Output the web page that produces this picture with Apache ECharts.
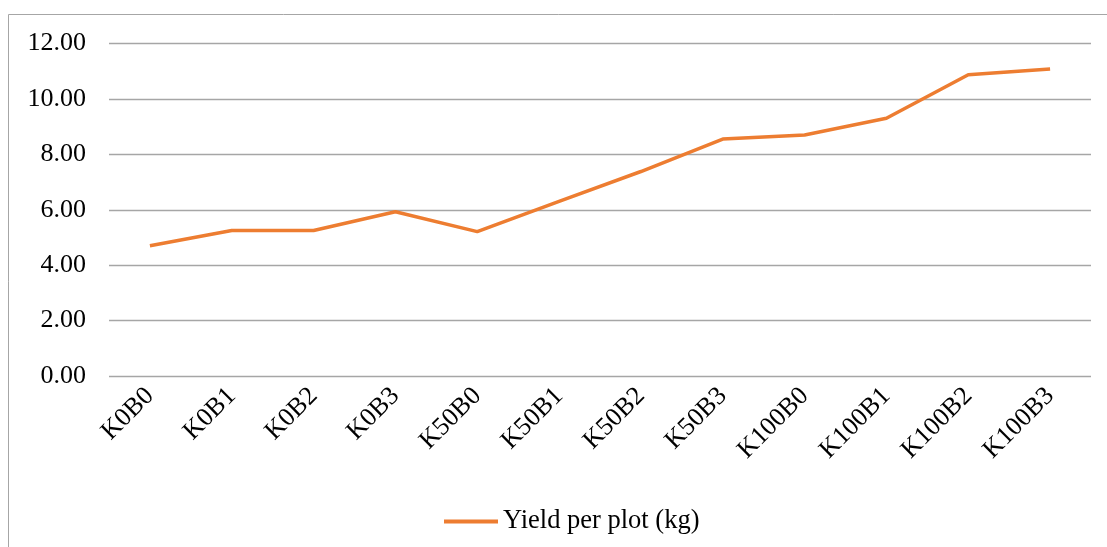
<!DOCTYPE html>
<html>
<head>
<meta charset="utf-8">
<script src="https://cdn.jsdelivr.net/npm/echarts@6/dist/echarts.min.js"></script>
<style>
html,body{margin:0;padding:0;background:#fff;}
#c{width:1107px;height:547px;}
</style>
</head>
<body>
<div id="c"></div>
<script>
var categories = ['K0B0','K0B1','K0B2','K0B3','K50B0','K50B1','K50B2','K50B3','K100B0','K100B1','K100B2','K100B3'];
var yieldValues = [4.70, 5.25, 5.25, 5.93, 5.21, 6.30, 7.38, 8.55, 8.70, 9.30, 10.87, 11.08];
var seriesName = 'Yield per plot (kg)';

var chart = echarts.init(document.getElementById('c'));
var font = '"Liberation Serif", "Times New Roman", serif';
chart.setOption({
  animation: false,
  backgroundColor: '#fff',
  graphic: [{
    type: 'rect',
    shape: {x: 8.5, y: 14.5, width: 1200, height: 600},
    style: {fill: 'none', stroke: '#a6a6a6', lineWidth: 1},
    silent: true
  }],
  grid: {left: 109, right: 16, top: 43.5, bottom: 171},
  legend: {
    data: [seriesName],
    left: 439,
    top: 503,
    itemWidth: 54,
    itemHeight: 4,
    itemGap: 5,
    icon: 'rect',
    textStyle: {fontFamily: font, fontSize: 26.5, color: '#000'}
  },
  xAxis: {
    type: 'category',
    data: categories,
    boundaryGap: true,
    axisLine: {show: false},
    axisTick: {show: false},
    axisLabel: {rotate: 45, fontFamily: font, fontSize: 26, color: '#000', margin: 16, interval: 0}
  },
  yAxis: {
    type: 'value',
    min: 0, max: 12, interval: 2,
    axisLine: {show: false},
    axisTick: {show: false},
    splitLine: {lineStyle: {color: '#a6a6a6', width: 1.3}},
    axisLabel: {fontFamily: font, fontSize: 26, color: '#000', margin: 23,
      formatter: function(v){ return v.toFixed(2); }}
  },
  series: [{
    name: seriesName,
    type: 'line',
    data: yieldValues,
    symbol: 'none',
    lineStyle: {color: '#ED7D31', width: 3.5},
    itemStyle: {color: '#ED7D31'}
  }]
});
</script>
</body>
</html>
